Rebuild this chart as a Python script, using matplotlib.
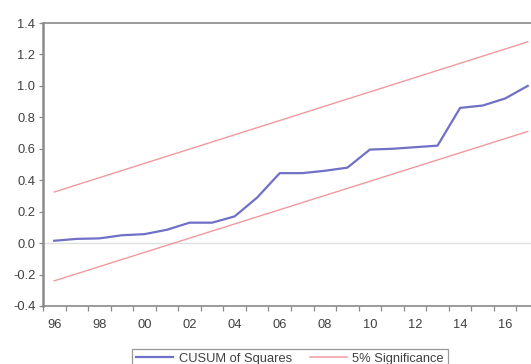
import matplotlib
matplotlib.use("Agg")
import matplotlib.pyplot as plt
from matplotlib.lines import Line2D

plt.rcParams['font.family'] = ['Liberation Sans', 'DejaVu Sans']

# CUSUM of squares statistic, annual observations
years = [1996, 1997, 1998, 1999, 2000, 2001, 2002, 2003, 2004, 2005, 2006,
         2007, 2008, 2009, 2010, 2011, 2012, 2013, 2014, 2015, 2016, 2017]
cusum_sq = [0.015, 0.027, 0.03, 0.05, 0.057, 0.085, 0.13, 0.13, 0.17, 0.29, 0.445,
            0.445, 0.46, 0.48, 0.595, 0.60, 0.61, 0.62, 0.86, 0.875, 0.92, 1.0]

# 5% significance bounds (straight lines between the first and last year)
bound_years = [1996, 2017]
upper_bound = [0.325, 1.28]
lower_bound = [-0.24, 0.71]

ytick_vals = [-0.4, -0.2, 0.0, 0.2, 0.4, 0.6, 0.8, 1.0, 1.2, 1.4]
xtick_years = [1996, 1998, 2000, 2002, 2004, 2006, 2008, 2010, 2012, 2014, 2016]
xtick_labels = ['96', '98', '00', '02', '04', '06', '08', '10', '12', '14', '16']

W, H = 531, 364
fig = plt.figure(figsize=(W / 100, H / 100), dpi=100)
left, right = 43 / W, 539 / W
bottom, top = (H - 306) / H, (H - 23) / H
ax = fig.add_axes([left, bottom, right - left, top - bottom])

blue = '#7070c6'
red = '#f0999f'
grey_txt = '#404040'
spine_c = '#8a8a8a'
fs = 9.3

ax.axhline(0.0, color='#e0e0e0', lw=1.0, zorder=1)
ax.plot(bound_years, upper_bound, color=red, lw=1.0, zorder=2)
ax.plot(bound_years, lower_bound, color=red, lw=1.0, zorder=2)
ax.plot(years, cusum_sq, color=blue, lw=1.6, zorder=3)

ax.set_xlim(1995.5, 2017.5)
ax.set_ylim(-0.4, 1.4)

ax.set_yticks(ytick_vals)
ax.set_yticklabels([f"{v:.1f}" for v in ytick_vals])
ax.set_xticks(xtick_years)
ax.set_xticklabels(xtick_labels)
ax.set_xticks([y + 0.5 for y in range(1995, 2017)], minor=True)

ax.tick_params(axis='x', which='major', length=0, pad=9, labelsize=fs, colors=grey_txt)
ax.tick_params(axis='x', which='minor', length=3.5, width=0.9, color=spine_c, direction='out')
ax.tick_params(axis='y', which='major', length=3, width=0.9, color=spine_c, pad=2.5,
               labelsize=fs, labelcolor=grey_txt, direction='out')

for side in ['top', 'bottom']:
    ax.spines[side].set_color(spine_c)
    ax.spines[side].set_linewidth(1.2)
ax.spines['left'].set_color(spine_c)
ax.spines['left'].set_linewidth(1.8)
ax.spines['right'].set_visible(False)

handles = [Line2D([], [], color=blue, lw=1.6), Line2D([], [], color=red, lw=1.1)]
leg = fig.legend(handles, ['CUSUM of Squares', '5% Significance'],
                 loc='upper center', bbox_to_anchor=(290 / W, (H - 349) / H),
                 ncol=2, frameon=True, fancybox=False, fontsize=fs,
                 handlelength=2.9, handletextpad=0.4, columnspacing=1.4,
                 borderpad=0.3, borderaxespad=0)
leg.get_frame().set_edgecolor('#808080')
leg.get_frame().set_linewidth(0.9)
for t in leg.get_texts():
    t.set_color(grey_txt)

fig.savefig('out.png', dpi=100)
